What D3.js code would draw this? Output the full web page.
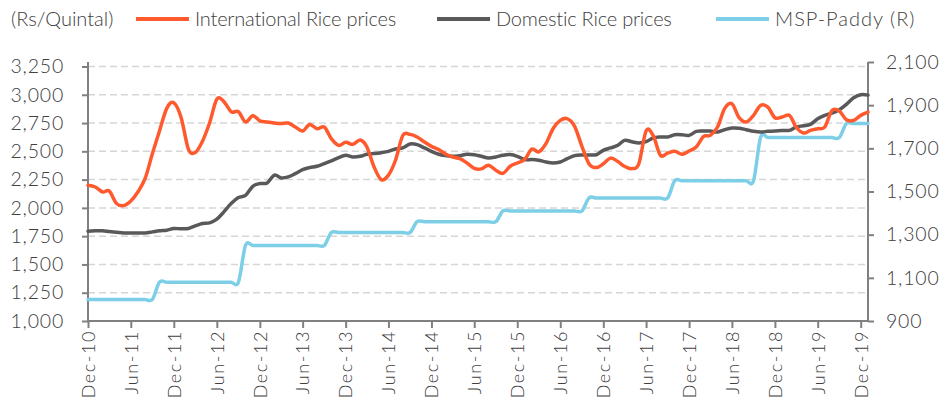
<!DOCTYPE html>
<html>
<head>
<meta charset="utf-8">
<script src="https://cdn.jsdelivr.net/npm/d3@7"></script>
<style>
  body { margin: 0; background: #fff; }
  svg text { font-family: Lato, "Open Sans", sans-serif; font-weight: 300; fill: #404040; }
</style>
</head>
<body>
<svg id="chart"></svg>
<script>
'use strict'

// monthly, Dec-10 .. Jan-20
var startMonth = new Date(2010, 11, 1);

var intlPrice = [2200, 2185, 2140, 2150, 2040, 2020, 2060, 2140, 2260, 2480,
	2680, 2880, 2930, 2800, 2520, 2490, 2590, 2750, 2960, 2940,
	2850, 2850, 2760, 2815, 2770, 2760, 2750, 2745, 2750, 2715,
	2680, 2738, 2700, 2715, 2612, 2553, 2580, 2562, 2600, 2540,
	2362, 2250, 2290, 2421, 2640, 2650, 2627, 2583, 2544, 2515,
	2474, 2450, 2435, 2397, 2350, 2345, 2377, 2333, 2305, 2368,
	2397, 2427, 2520, 2495, 2568, 2700, 2774, 2788, 2721, 2544,
	2391, 2356, 2390, 2440, 2410, 2368, 2347, 2390, 2680, 2640,
	2465, 2485, 2500, 2474, 2503, 2540, 2632, 2641, 2715, 2877,
	2921, 2800, 2759, 2818, 2906, 2891, 2797, 2803, 2818, 2715,
	2662, 2685, 2700, 2715, 2862, 2856, 2779, 2774, 2818, 2847];

var domesticPrice = [1794, 1797, 1797, 1791, 1785, 1779, 1779, 1779, 1779, 1788,
	1797, 1803, 1818, 1815, 1818, 1841, 1862, 1868, 1900, 1965,
	2038, 2091, 2110, 2191, 2215, 2221, 2290, 2265, 2274, 2303,
	2338, 2356, 2368, 2391, 2415, 2444, 2465, 2450, 2456, 2474,
	2480, 2488, 2500, 2521, 2530, 2565, 2559, 2530, 2500, 2474,
	2462, 2456, 2462, 2474, 2470, 2456, 2441, 2450, 2465, 2471,
	2456, 2427, 2427, 2421, 2406, 2397, 2406, 2435, 2462, 2468,
	2468, 2470, 2509, 2530, 2553, 2597, 2585, 2574, 2585, 2618,
	2627, 2627, 2647, 2647, 2641, 2677, 2680, 2680, 2671, 2691,
	2706, 2705, 2691, 2677, 2671, 2677, 2680, 2685, 2685, 2715,
	2726, 2738, 2788, 2818, 2838, 2868, 2915, 2974, 3000, 2997];

var mspPaddy = [1000, 1000, 1000, 1000, 1000, 1000, 1000, 1000, 1000, 1000,
	1080, 1080, 1080, 1080, 1080, 1080, 1080, 1080, 1080, 1080,
	1080, 1080, 1250, 1250, 1250, 1250, 1250, 1250, 1250, 1250,
	1250, 1250, 1250, 1250, 1310, 1310, 1310, 1310, 1310, 1310,
	1310, 1310, 1310, 1310, 1310, 1310, 1360, 1360, 1360, 1360,
	1360, 1360, 1360, 1360, 1360, 1360, 1360, 1360, 1410, 1410,
	1410, 1410, 1410, 1410, 1410, 1410, 1410, 1410, 1410, 1410,
	1470, 1470, 1470, 1470, 1470, 1470, 1470, 1470, 1470, 1470,
	1470, 1470, 1550, 1550, 1550, 1550, 1550, 1550, 1550, 1550,
	1550, 1550, 1550, 1550, 1750, 1750, 1750, 1750, 1750, 1750,
	1750, 1750, 1750, 1750, 1750, 1750, 1815, 1815, 1815, 1815];

var leftTicks = [1000, 1250, 1500, 1750, 2000, 2250, 2500, 2750, 3000, 3250];
var rightTicks = [900, 1100, 1300, 1500, 1700, 1900, 2100];
var xTickLabels = ["Dec-10", "Jun-11", "Dec-11", "Jun-12", "Dec-12", "Jun-13", "Dec-13",
	"Jun-14", "Dec-14", "Jun-15", "Dec-15", "Jun-16", "Dec-16", "Jun-17", "Dec-17",
	"Jun-18", "Dec-18", "Jun-19", "Dec-19"];

var seriesNames = ["International Rice prices", "Domestic Rice prices", "MSP-Paddy (R)"];
var seriesColors = ["#ff5a2e", "#595959", "#7ccfe6"];

var WIDTH = 944, HEIGHT = 402;
var left = 88, right = 868, bottom = 321;

var months = intlPrice.map(function (d, i) { return d3.timeMonth.offset(startMonth, i); });

var svg = d3.select("#chart").attr("width", WIDTH).attr("height", HEIGHT);

var x = d3.scaleTime()
	.domain([months[0], months[months.length - 1]])
	.range([left, right]);
var yL = d3.scaleLinear().domain([1000, 3250]).range([bottom, 66.5]);
var yR = d3.scaleLinear().domain([900, 2100]).range([bottom, 62]);

// gridlines
svg.append("g").selectAll("line")
	.data(leftTicks.slice(1))
	.join("line")
	.attr("x1", left).attr("x2", right)
	.attr("y1", function (d) { return yL(d); })
	.attr("y2", function (d) { return yL(d); })
	.attr("stroke", "#d6d6d6")
	.attr("stroke-width", 1.5)
	.attr("stroke-dasharray", "7,4");

// axes
var leftAxis = svg.append("g")
	.attr("transform", "translate(" + left + ",0)")
	.call(d3.axisLeft(yL).tickValues(leftTicks).tickSize(6).tickPadding(18)
		.tickFormat(d3.format(",")));

var rightAxis = svg.append("g")
	.attr("transform", "translate(" + right + ",0)")
	.call(d3.axisRight(yR).tickValues(rightTicks).tickSize(6).tickPadding(12)
		.tickFormat(d3.format(",")));

var xTickDates = xTickLabels.map(function (d, i) { return d3.timeMonth.offset(startMonth, i * 6); });
var bottomAxis = svg.append("g")
	.attr("transform", "translate(0," + bottom + ")")
	.call(d3.axisBottom(x).tickValues(xTickDates).tickSize(7)
		.tickFormat(function (d, i) { return xTickLabels[i]; }));

bottomAxis.selectAll("text")
	.attr("transform", "rotate(-90)")
	.attr("text-anchor", "end")
	.attr("x", -9)
	.attr("y", 0)
	.attr("dy", "0.35em")
	.style("font-size", "18px")
	.style("letter-spacing", "1.6px");

[leftAxis, rightAxis, bottomAxis].forEach(function (g) {
	g.select(".domain").remove();
	g.selectAll(".tick line").attr("stroke", "#808080").attr("stroke-width", 2);
	g.selectAll("text").attr("fill", "#404040");
});
leftAxis.selectAll("text").style("font-size", "19.5px").style("letter-spacing", "0.8px");
rightAxis.selectAll("text").style("font-size", "19.5px").style("letter-spacing", "0.8px");

// axis lines
svg.append("line").attr("x1", left).attr("x2", left).attr("y1", 62).attr("y2", bottom)
	.attr("stroke", "#808080").attr("stroke-width", 2);
svg.append("line").attr("x1", right).attr("x2", right).attr("y1", 62).attr("y2", bottom)
	.attr("stroke", "#808080").attr("stroke-width", 2);
svg.append("line").attr("x1", left - 1).attr("x2", right + 1).attr("y1", bottom).attr("y2", bottom)
	.attr("stroke", "#808080").attr("stroke-width", 2);

// lines
function lineFor(scale) {
	return d3.line()
		.x(function (d, i) { return x(months[i]); })
		.y(function (d) { return scale(d); })
		.curve(d3.curveCardinal.tension(0));
}

var plotted = [[mspPaddy, yR, 2], [domesticPrice, yL, 1], [intlPrice, yL, 0]];
plotted.forEach(function (p) {
	svg.append("path")
		.datum(p[0])
		.attr("d", lineFor(p[1]))
		.attr("fill", "none")
		.attr("stroke", seriesColors[p[2]])
		.attr("stroke-width", 3.5)
		.attr("stroke-linejoin", "round")
		.attr("stroke-linecap", "round");
});

// legend
svg.append("text")
	.attr("x", 11).attr("y", 26)
	.style("font-size", "20px")
	.text("(Rs/Quintal)");

var legendX = [136, 437, 716];
var legendSpacing = ["-0.2px", "-0.2px", "1px"];
seriesNames.forEach(function (name, i) {
	var g = svg.append("g").attr("transform", "translate(" + legendX[i] + ",19)");
	g.append("line")
		.attr("x1", 0).attr("x2", 53)
		.attr("stroke", seriesColors[i])
		.attr("stroke-width", 4);
	g.append("text")
		.attr("x", 59).attr("y", 7)
		.style("font-size", "20px")
		.style("letter-spacing", legendSpacing[i])
		.text(name);
});
</script>
</body>
</html>
